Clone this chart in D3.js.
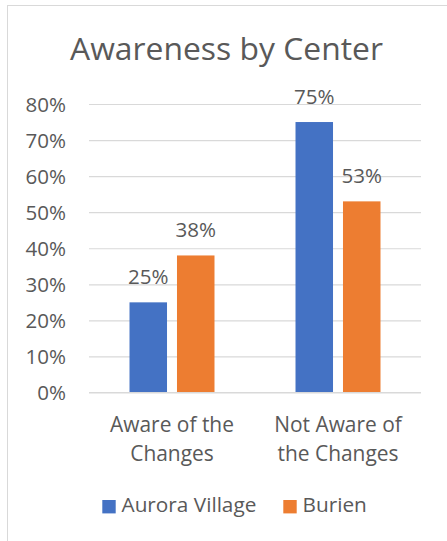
<!DOCTYPE html>
<html>
<head>
<meta charset="utf-8">
<script src="https://cdn.jsdelivr.net/npm/d3@7"></script>
<style>
  html, body { margin: 0; padding: 0; background: #fff; }
  svg { display: block; }
  text { font-family: "Open Sans", "DejaVu Sans", sans-serif; fill: #595959; }
</style>
</head>
<body>
<svg id="chart" width="447" height="541"></svg>
<script>
const title = "Awareness by Center";
const categories = [["Aware of the", "Changes"], ["Not Aware of", "the Changes"]];
const seriesNames = ["Aurora Village", "Burien"];
const seriesColors = ["#4472C4", "#ED7D31"];
const auroraVillage = [25, 75];
const burien = [38, 53];
const yTicks = [0, 10, 20, 30, 40, 50, 60, 70, 80];

const series = [auroraVillage, burien];
const svg = d3.select("#chart");

// fit a font size so that a sample string has the target width
function fitSize(sample, targetWidth, base) {
  const t = svg.append("text").attr("font-size", base).text(sample);
  const w = t.node().getComputedTextLength();
  t.remove();
  return base * targetWidth / w;
}
const tickSize = fitSize("80%", 40.5, 20);
const catSize = fitSize("Aware of the", 124, 20);
const legSize = fitSize("Aurora Village", 135, 20);
const titleSize = fitSize(title, 313, 36);

// chart border
svg.append("rect")
  .attr("x", 7.5).attr("y", 5.5).attr("width", 460).attr("height", 560)
  .attr("fill", "none").attr("stroke", "#d9d9d9").attr("stroke-width", 1);

const plot = { left: 89, right: 421, top: 104, bottom: 392.5 };

const y = d3.scaleLinear().domain([0, 80]).range([plot.bottom, plot.top]);
const x0 = d3.scaleBand().domain(d3.range(categories.length))
  .range([plot.left, plot.right]).paddingInner(0.488).paddingOuter(0.244);
const x1 = d3.scaleBand().domain(d3.range(series.length))
  .range([0, x0.bandwidth()]).paddingInner(0.21).paddingOuter(0);

// title
svg.append("text")
  .attr("x", 226.5).attr("y", 59.5)
  .attr("text-anchor", "middle")
  .attr("font-size", titleSize)
  .text(title);

// gridlines
const yAxis = d3.axisLeft(y).tickValues(yTicks).tickSize(-(plot.right - plot.left))
  .tickFormat(d => d + "%").tickPadding(23);
const gy = svg.append("g").attr("transform", `translate(${plot.left},0)`).call(yAxis);
gy.select(".domain").remove();
gy.selectAll(".tick line").attr("stroke", "#d9d9d9").attr("stroke-width", 1.2);
gy.selectAll(".tick text")
  .attr("font-size", tickSize)
  .attr("fill", "#595959")
  .attr("font-family", '"Open Sans", sans-serif')
  .attr("dy", "0.36em");

// bars
const groups = svg.append("g").selectAll("g")
  .data(categories.map((c, i) => i))
  .join("g")
  .attr("transform", i => `translate(${x0(i)},0)`);

groups.selectAll("rect")
  .data(i => series.map((s, j) => ({ j, v: s[i] })))
  .join("rect")
  .attr("x", d => x1(d.j))
  .attr("width", x1.bandwidth())
  .attr("y", d => y(d.v))
  .attr("height", d => y(0) - y(d.v))
  .attr("fill", d => seriesColors[d.j]);

groups.selectAll("text.lbl")
  .data(i => series.map((s, j) => ({ j, v: s[i] })))
  .join("text")
  .attr("class", "lbl")
  .attr("x", d => x1(d.j) + x1.bandwidth() / 2)
  .attr("y", d => y(d.v) - 18.5)
  .attr("text-anchor", "middle")
  .attr("font-size", tickSize)
  .text(d => d.v + "%");

// x axis line
svg.append("line")
  .attr("x1", plot.left).attr("x2", plot.right)
  .attr("y1", y(0)).attr("y2", y(0))
  .attr("stroke", "#d9d9d9").attr("stroke-width", 1.2);

// category labels
categories.forEach((lines, i) => {
  const t = svg.append("text")
    .attr("x", x0(i) + x0.bandwidth() / 2)
    .attr("y", 432.3)
    .attr("text-anchor", "middle")
    .attr("font-size", catSize);
  lines.forEach((ln, k) => {
    t.append("tspan")
      .attr("x", x0(i) + x0.bandwidth() / 2)
      .attr("y", 432.3 + k * 28.4)
      .text(ln);
  });
});

// legend
const legendX = [102.3, 283.3];
seriesNames.forEach((name, j) => {
  svg.append("rect")
    .attr("x", legendX[j]).attr("y", 500)
    .attr("width", 13.4).attr("height", 13.4)
    .attr("fill", seriesColors[j]);
  svg.append("text")
    .attr("x", legendX[j] + 19.2).attr("y", 512.3)
    .attr("font-size", legSize)
    .text(name);
});
</script>
</body>
</html>
